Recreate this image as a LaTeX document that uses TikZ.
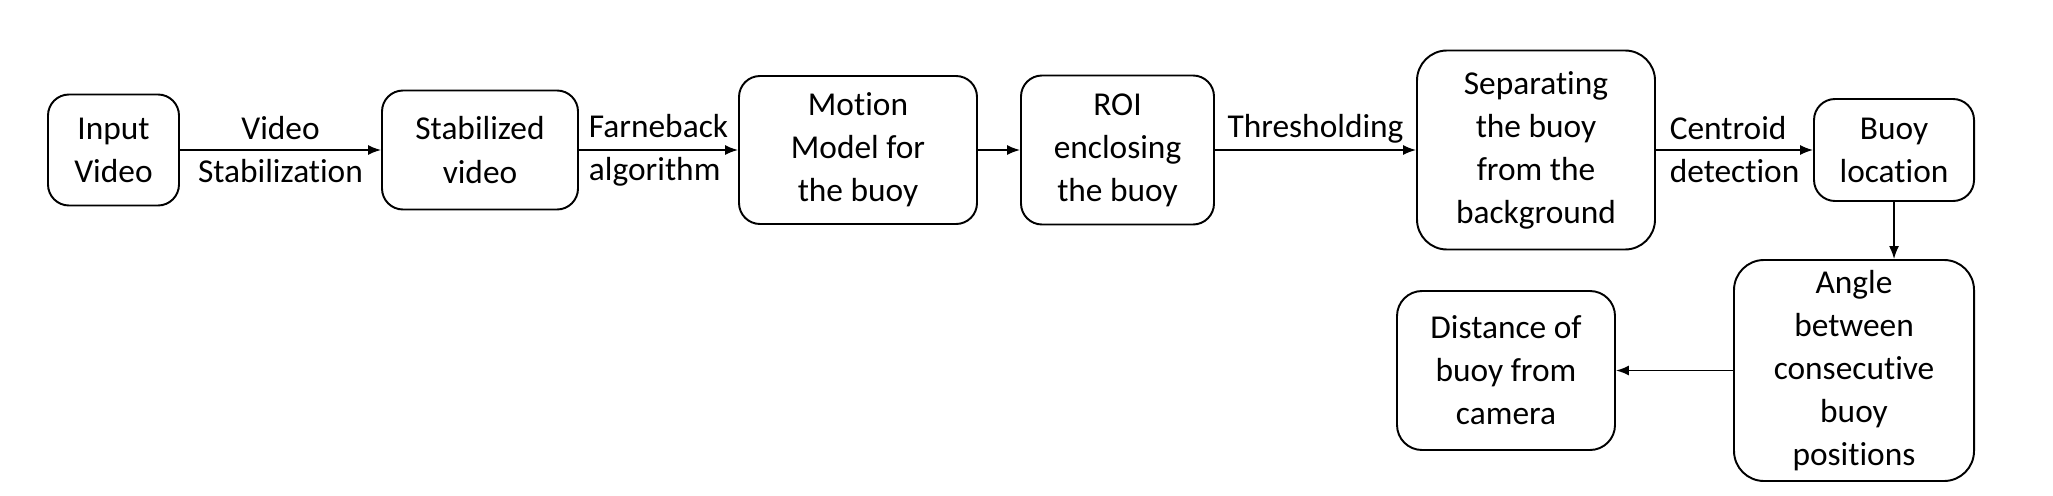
\documentclass[tikz,border=0pt]{standalone}
\usepackage{fontspec}
\setmainfont{Carlito}[Ligatures=NoCommon]
\usepackage{tikz}
\usetikzlibrary{arrows.meta}

\begin{document}
\begin{tikzpicture}[box/.style={draw,line width=1.1pt,rounded corners=0.42cm,align=center,font=\fontsize{19}{24.5}\selectfont},
arr/.style={line width=0.9pt,-{Latex[length=0.26cm,width=0.2cm]}},
lbl/.style={font=\fontsize{19}{24.5}\selectfont,inner sep=1pt}]
\useasboundingbox (0,0) rectangle (41.06,-9.9);
\node[box,minimum width=2.62cm,minimum height=2.22cm] (input) at (2.27,-3) {Input\\Video};
\node[box,minimum width=3.92cm,minimum height=2.38cm] (stab) at (9.6,-3) {Stabilized\\video};
\node[box,minimum width=4.76cm,minimum height=2.96cm] (motion) at (17.16,-3) {Motion\\Model for\\the buoy};
\node[box,minimum width=3.86cm,minimum height=2.98cm] (roi) at (22.35,-3) {ROI\\enclosing\\the buoy};
\node[box,minimum width=4.76cm,minimum height=3.98cm,rounded corners=0.6cm] (sep) at (30.72,-3) {Separating\\the buoy\\from the\\background};
\node[box,minimum width=3.2cm,minimum height=2.04cm] (loc) at (37.88,-3) {Buoy\\location};
\node[box,minimum width=4.8cm,minimum height=4.42cm,rounded corners=0.6cm] (angle) at (37.08,-7.41) {Angle\\between\\consecutive\\buoy\\positions};
\node[box,minimum width=4.36cm,minimum height=3.18cm,rounded corners=0.5cm] (dist) at (30.12,-7.41) {Distance of\\buoy from\\camera};
\draw[arr](input)--node[lbl,align=center]{Video\\Stabilization}(stab);
\draw[arr](stab)--node[lbl,align=left]{Farneback\\algorithm}(motion);
\draw[arr](motion)--(roi);
\draw[arr](roi)--node[lbl,above,inner sep=0.333em]{Thresholding}(sep);
\draw[arr](sep)--node[lbl,align=left]{Centroid\\detection}(loc);
\draw[arr](loc.south)--(loc.south|-angle.north);
\draw[arr](angle)--(dist);
\end{tikzpicture}
\end{document}
